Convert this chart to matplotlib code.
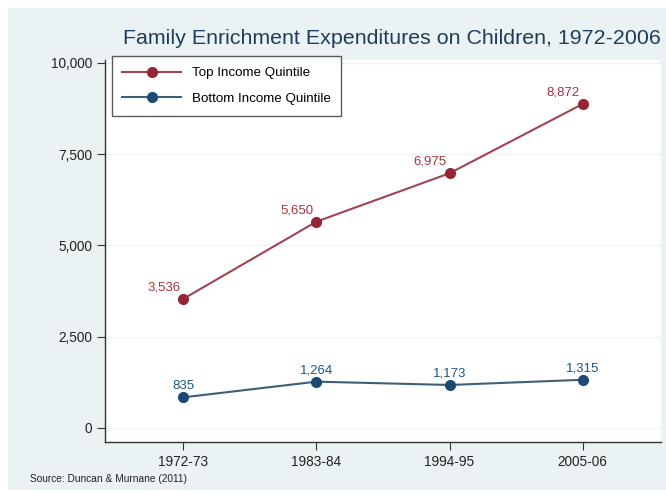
import matplotlib.pyplot as plt
from matplotlib.patches import Rectangle

periods = ['1972-73', '1983-84', '1994-95', '2005-06']
top_quintile = [3536, 5650, 6975, 8872]
bottom_quintile = [835, 1264, 1173, 1315]
y_ticks = [0, 2500, 5000, 7500, 10000]

plt.rcParams['font.family'] = ['Liberation Sans Narrow', 'Liberation Sans', 'DejaVu Sans']

fig = plt.figure(figsize=(6.66, 4.95), dpi=100)
fig.patch.set_facecolor('white')
# light panel behind the whole chart
fig.patches.append(Rectangle((8 / 666, 5 / 495), 658 / 666, 482 / 495,
                             transform=fig.transFigure, facecolor='#eaf2f3',
                             edgecolor='none', zorder=-5))

ax = fig.add_axes([105 / 666, 53 / 495, 556 / 666, 382 / 495])
ax.set_zorder(2)
ax.set_facecolor('white')

x = range(len(periods))
red_line, red_mark = '#a04450', '#962636'
blue_line, blue_mark = '#3f5f78', '#1b4a75'

ax.plot(x, top_quintile, color=red_line, lw=1.5, marker='o', ms=7,
        mfc=red_mark, mec=red_mark, label='Top Income Quintile')
ax.plot(x, bottom_quintile, color=blue_line, lw=1.5, marker='o', ms=7,
        mfc=blue_mark, mec=blue_mark, label='Bottom Income Quintile')

for i, v in enumerate(top_quintile):
    ax.annotate(f'{v:,}', (i, v), xytext=(-14, 4), textcoords='offset points',
                ha='center', va='bottom', color='#a8323e', fontsize=9.5)
for i, v in enumerate(bottom_quintile):
    ax.annotate(f'{v:,}', (i, v), xytext=(0, 4), textcoords='offset points',
                ha='center', va='bottom', color='#1e5580', fontsize=9.5)

ax.set_xlim(-0.59, 3.59)
ax.set_ylim(-390, 10080)
ax.set_xticks(list(x))
ax.set_xticklabels(periods, fontsize=9.8)
ax.set_yticks(y_ticks)
ax.set_yticklabels([f'{t:,}' for t in y_ticks], fontsize=9.8)
ax.tick_params(direction='out', length=6, color='#333333', labelcolor='#222222')
ax.grid(axis='y', color='#eef3f4', lw=1.0)
ax.set_axisbelow(True)

for s in ['top', 'right']:
    ax.spines[s].set_visible(False)
for s in ['left', 'bottom']:
    ax.spines[s].set_color('#333333')
    ax.spines[s].set_linewidth(1.0)

leg = ax.legend(loc='upper left', bbox_to_anchor=(0.012, 1.01), borderaxespad=0,
                fontsize=9.6, frameon=True, fancybox=False, edgecolor='#333333',
                handlelength=4.4, borderpad=0.8, labelspacing=1.0)
leg.get_frame().set_linewidth(1.0)

fig.text(392 / 666, 1 - 39 / 495, 'Family Enrichment Expenditures on Children, 1972-2006',
         ha='center', va='center', fontsize=15.4, color='#1e3d5c',
         family=['Liberation Sans', 'DejaVu Sans'])
fig.text(30 / 666, 1 - 479 / 495, 'Source: Duncan & Murnane (2011)',
         ha='left', va='center', fontsize=7.3, color='#222222')

fig.savefig('out.png', dpi=100, facecolor=fig.get_facecolor())
